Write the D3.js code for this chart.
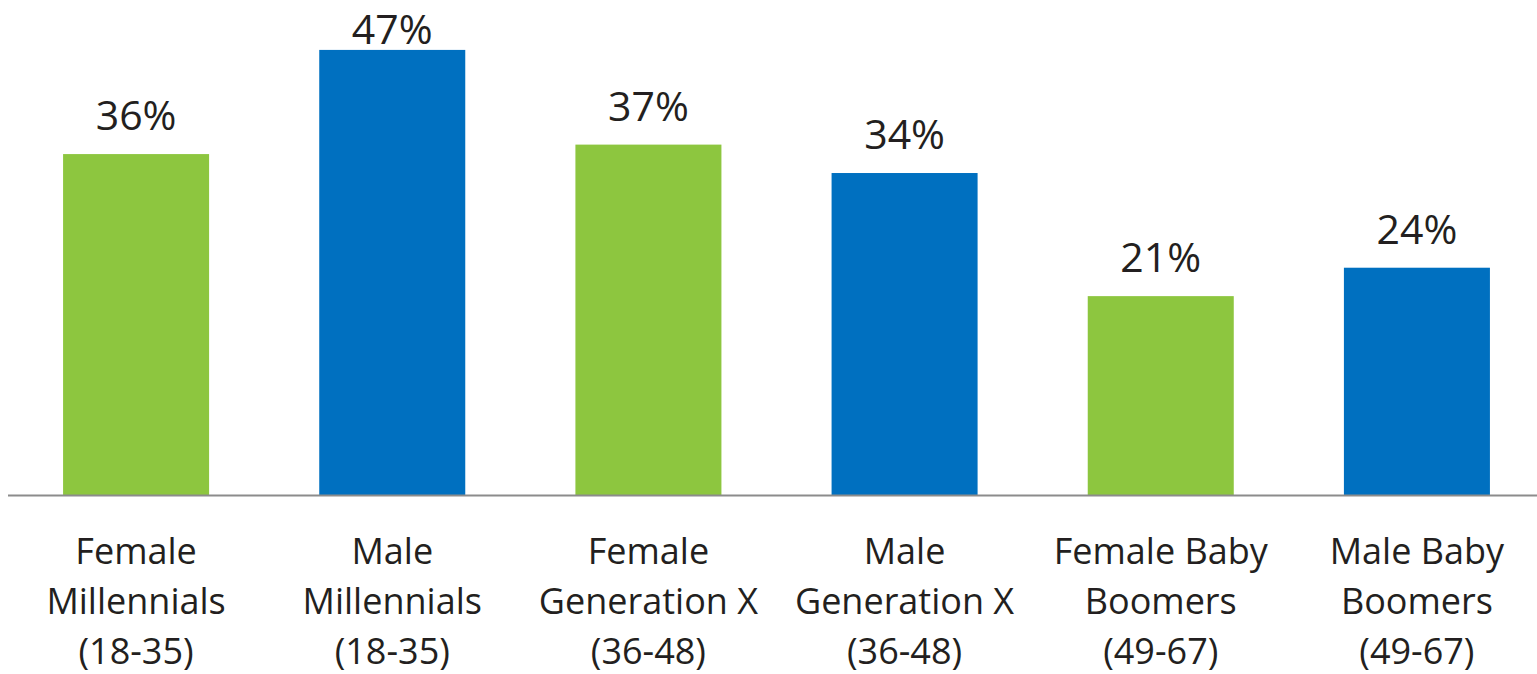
<!DOCTYPE html>
<html>
<head>
<meta charset="utf-8">
<script src="https://cdn.jsdelivr.net/npm/d3@7"></script>
<style>
  html, body { margin: 0; padding: 0; background: #ffffff; }
  svg { display: block; }
  text { font-family: "Open Sans", Lato, sans-serif; fill: #231f20; }
</style>
</head>
<body>
<svg id="chart" width="1537" height="674"></svg>
<script>
// Share of respondents by generation and gender
const categories = [
  ["Female", "Millennials", "(18-35)"],
  ["Male", "Millennials", "(18-35)"],
  ["Female", "Generation X", "(36-48)"],
  ["Male", "Generation X", "(36-48)"],
  ["Female Baby", "Boomers", "(49-67)"],
  ["Male Baby", "Boomers", "(49-67)"]
];
const values = [36, 47, 37, 34, 21, 24];
const genders = ["female", "male", "female", "male", "female", "male"];

const colors = { female: "#8dc63f", male: "#0070c0" };

const svg = d3.select("#chart");
const left = 8, right = 1537, baseline = 495;

const x = d3.scaleBand()
  .domain(d3.range(values.length))
  .range([left, 1545])
  .paddingInner(0.43)
  .paddingOuter(0.215);

const y = d3.scaleLinear()
  .domain([0, 50])
  .range([baseline, baseline - 473.5]);

// bars
svg.append("g")
  .selectAll("rect")
  .data(values)
  .join("rect")
  .attr("x", (d, i) => x(i))
  .attr("y", d => y(d))
  .attr("width", x.bandwidth())
  .attr("height", d => y(0) - y(d))
  .attr("fill", (d, i) => colors[genders[i]]);

// baseline axis
svg.append("line")
  .attr("x1", left).attr("x2", right)
  .attr("y1", baseline + 0.5).attr("y2", baseline + 0.5)
  .attr("stroke", "#8c8c8c")
  .attr("stroke-width", 2);

// value labels, kept inside the top of the plot area
svg.append("g")
  .selectAll("text")
  .data(values)
  .join("text")
  .attr("x", (d, i) => x(i) + x.bandwidth() / 2)
  .attr("y", d => Math.max(y(d) - 24, 44))
  .attr("text-anchor", "middle")
  .attr("font-size", 41)
  .text(d => d + "%");

// category labels
const cat = svg.append("g")
  .selectAll("text")
  .data(categories)
  .join("text")
  .attr("x", (d, i) => x(i) + x.bandwidth() / 2)
  .attr("y", 564)
  .attr("text-anchor", "middle")
  .attr("font-size", 36);

cat.selectAll("tspan")
  .data(d => d)
  .join("tspan")
  .attr("x", function () { return d3.select(this.parentNode).attr("x"); })
  .attr("dy", (d, j) => j === 0 ? 0 : 50)
  .text(d => d);
</script>
</body>
</html>
